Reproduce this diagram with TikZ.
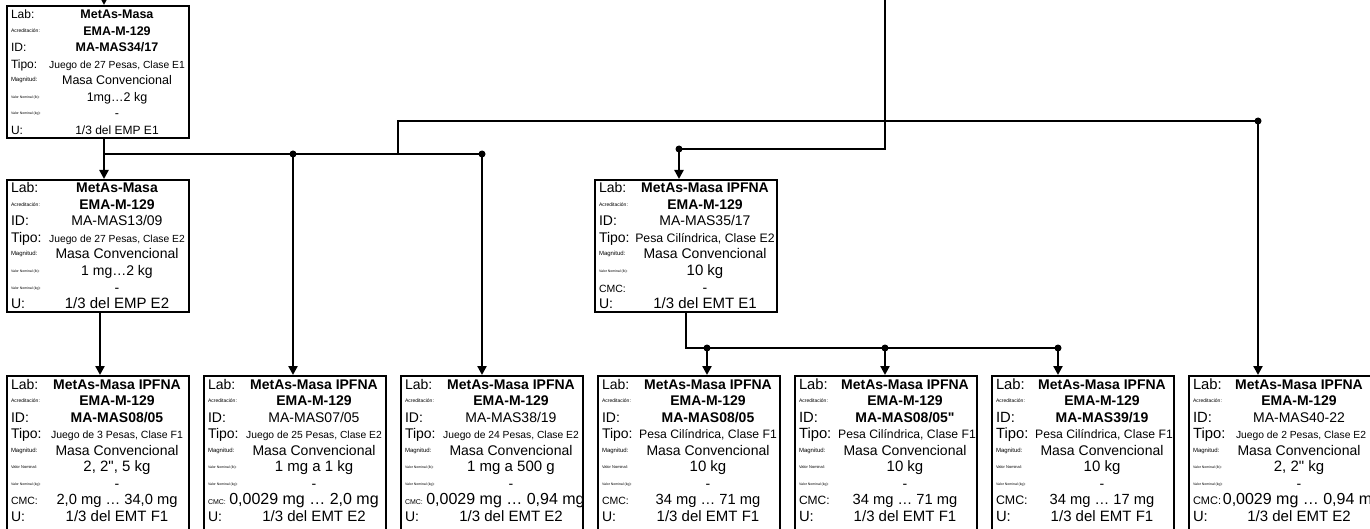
\documentclass[tikz,border=0pt]{standalone}
\usepackage{fontspec}
\setmainfont{Liberation Sans}
\usepackage{array}
\usetikzlibrary{arrows.meta,positioning}

\newcommand\tam[1]{\fontsize{#1}{#1}\selectfont}
\newcommand\etq[2][5]{\raisebox{3pt}{\tam{#1}#2}}
\newcommand\etqfont{}
\newcommand\comilla{\XeTeXglyph\XeTeXcharglyph"22\relax}
\newenvironment{ficha}{\setbox\strutbox\hbox{\vrule height13pt depth3.5pt width0pt}%
  \begin{tabular}{@{\hspace{4pt}}>{\etqfont}w{l}{36pt}@{}w{c}{140pt}@{\hspace{2pt}}}}%
  {\end{tabular}}

\begin{document}
\begin{tikzpicture}[x=1pt, y=-1pt, node distance=64pt and 15pt,
  fichabox/.style={draw, line width=2.4pt, inner sep=0pt, outer sep=0pt, font=\tam{14}},
  linea/.style={line width=2.3pt},
  arr/.style={linea, -{Triangle[length=9pt,width=9pt]}, shorten >=1pt}]
\path[use as bounding box] (0,0) rectangle (1370,529);
\clip (0,0) rectangle (1370,529);

% patrones de referencia
\node[fichabox, anchor=north west, font={\tam{12.5}\def\etqfont{\tam{12}}}] (A) at (7,6) {\begin{ficha}
Lab: & \textbf{MetAs-Masa}\\
\etq{Acreditación:} & \textbf{EMA-M-129}\\
ID: & \textbf{MA-MAS34/17}\\
Tipo: & {\tam{10.3}Juego de 27 Pesas, Clase E1}\\
\etq[6]{Magnitud:} & Masa Convencional\\
\etq[3.5]{Valor Nominal (lb):} & 1mg…2 kg\\
\etq[3.5]{Valor Nominal (kg):} & -\\
U: & {\tam{12}1/3 del EMP E1}
\end{ficha}};
\node[fichabox, below=42pt of A] (B) {\begin{ficha}
Lab: & \textbf{MetAs-Masa}\\
\etq{Acreditación:} & \textbf{EMA-M-129}\\
ID: & MA-MAS13/09\\
Tipo: & {\tam{10.3}Juego de 27 Pesas, Clase E2}\\
\etq[6]{Magnitud:} & Masa Convencional\\
\etq[3.5]{Valor Nominal (lb):} & 1 mg…2 kg\\
\etq[3.5]{Valor Nominal (kg):} & -\\
U: & {\tam{15}1/3 del EMP E2}
\end{ficha}};
\node[fichabox, anchor=north west] (M) at (595,180) {\begin{ficha}
Lab: & \textbf{MetAs-Masa IPFNA}\\
\etq{Acreditación:} & \textbf{EMA-M-129}\\
ID: & MA-MAS35/17\\
Tipo: & {\tam{12.3}Pesa Cilíndrica, Clase E2}\\
\etq[6]{Magnitud:} & Masa Convencional\\
\etq[3.5]{Valor Nominal (lb):} & {\tam{15}10 kg}\\
{\tam{10.5}CMC:} & -\\
U: & {\tam{15}1/3 del EMT E1}
\end{ficha}};

% patrones de trabajo
\node[fichabox, below=of B] (P1) {\begin{ficha}
Lab: & \textbf{MetAs-Masa IPFNA}\\
\etq{Acreditación:} & \textbf{EMA-M-129}\\
ID: & \textbf{MA-MAS08/05}\\
Tipo: & {\tam{10.5}Juego de 3 Pesas, Clase F1}\\
\etq[6]{Magnitud:} & Masa Convencional\\
\etq[4]{Valor Nominal:} & {\tam{15}2, 2\comilla, 5 kg}\\
\etq[3.5]{Valor Nominal (kg):} & -\\
{\tam{10.5}CMC:} & {\tam{14.7}2,0 mg … 34,0 mg}\\
U: & {\tam{15}1/3 del EMT F1}\\
&
\end{ficha}};
\node[fichabox, right=of P1] (P2) {\begin{ficha}
Lab: & \textbf{MetAs-Masa IPFNA}\\
\etq{Acreditación:} & \textbf{EMA-M-129}\\
ID: & MA-MAS07/05\\
Tipo: & {\tam{10.3}Juego de 25 Pesas, Clase E2}\\
\etq[6]{Magnitud:} & Masa Convencional\\
\etq[3.5]{Valor Nominal (lb):} & {\tam{15}1 mg a 1 kg}\\
\etq[3.5]{Valor Nominal (kg):} & -\\
{\tam{7}CMC:} & {\tam{16}\kern-20pt0,0029 mg … 2,0 mg}\\
U: & {\tam{15}1/3 del EMT E2}\\
&
\end{ficha}};
\node[fichabox, right=of P2] (P3) {\begin{ficha}
Lab: & \textbf{MetAs-Masa IPFNA}\\
\etq{Acreditación:} & \textbf{EMA-M-129}\\
ID: & MA-MAS38/19\\
Tipo: & {\tam{10.3}Juego de 24 Pesas, Clase E2}\\
\etq[6]{Magnitud:} & Masa Convencional\\
\etq[3.5]{Valor Nominal (lb):} & {\tam{15}1 mg a 500 g}\\
\etq[3.5]{Valor Nominal (kg):} & -\\
{\tam{7}CMC:} & {\tam{16}\kern-11pt0,0029 mg … 0,94 mg}\\
U: & {\tam{15}1/3 del EMT E2}\\
&
\end{ficha}};
\node[fichabox, right=of P3] (P4) {\begin{ficha}
Lab: & \textbf{MetAs-Masa IPFNA}\\
\etq{Acreditación:} & \textbf{EMA-M-129}\\
ID: & \textbf{MA-MAS08/05}\\
Tipo: & {\tam{12.2}Pesa Cilíndrica, Clase F1}\\
\etq[6]{Magnitud:} & Masa Convencional\\
\etq[4]{Valor Nominal:} & {\tam{15}10 kg}\\
\etq[3.5]{Valor Nominal (kg):} & -\\
{\tam{10.5}CMC:} & {\tam{14.7}34 mg … 71 mg}\\
U: & {\tam{15}1/3 del EMT F1}\\
&
\end{ficha}};
\node[fichabox, right=of P4, font={\tam{14}\def\etqfont{\tam{14.8}}}] (P5) {\begin{ficha}
Lab: & \textbf{MetAs-Masa IPFNA}\\
\etq{Acreditación:} & \textbf{EMA-M-129}\\
ID: & \textbf{MA-MAS08/05\comilla}\\
Tipo: & {\tam{12.2}\kern4pt Pesa Cilíndrica, Clase F1}\\
\etq[6]{Magnitud:} & Masa Convencional\\
\etq[4]{Valor Nominal:} & {\tam{15}10 kg}\\
\etq[3.5]{Valor Nominal (kg):} & -\\
{\tam{12}CMC:} & {\tam{14.7}34 mg … 71 mg}\\
U: & {\tam{15}1/3 del EMT F1}\\
&
\end{ficha}};
\node[fichabox, right=of P5, font={\tam{14}\def\etqfont{\tam{14.8}}}] (P6) {\begin{ficha}
Lab: & \textbf{MetAs-Masa IPFNA}\\
\etq{Acreditación:} & \textbf{EMA-M-129}\\
ID: & \textbf{MA-MAS39/19}\\
Tipo: & {\tam{12.2}\kern4pt Pesa Cilíndrica, Clase F1}\\
\etq[6]{Magnitud:} & Masa Convencional\\
\etq[4]{Valor Nominal:} & {\tam{15}10 kg}\\
\etq[3.5]{Valor Nominal (kg):} & -\\
{\tam{12.4}CMC:} & {\tam{14.7}34 mg … 17 mg}\\
U: & {\tam{15}1/3 del EMT F1}\\
&
\end{ficha}};
\node[fichabox, right=of P6, font={\tam{14}\def\etqfont{\tam{14.8}}}] (P7) {\begin{ficha}
Lab: & \textbf{MetAs-Masa IPFNA}\\
\etq{Acreditación:} & \textbf{EMA-M-129}\\
ID: & MA-MAS40-22\\
Tipo: & {\tam{10.3}\kern4pt Juego de 2 Pesas, Clase E2}\\
\etq[6]{Magnitud:} & Masa Convencional\\
\etq[3.5]{Valor Nominal (lb):} & {\tam{15}2, 2\comilla{} kg}\\
\etq[3.5]{Valor Nominal (kg):} & -\\
{\tam{11}CMC:} & {\tam{16}\kern6pt0,0029 mg … 0,94 mg}\\
U: & {\tam{15}1/3 del EMT E2}\\
&
\end{ficha}};

% puntos de las conexiones
\coordinate (inA) at (104,0);
\coordinate (j1) at (104,154);
\coordinate (j2) at (293,154);
\coordinate (j3) at (482,154);
\coordinate (j4) at (398,154);
\coordinate (j5) at (1258,121);
\coordinate (j7) at (100,340);
\coordinate (inM) at (885,0);
\coordinate (j6) at (679,149);
\coordinate (k0) at (686,348);
\coordinate (k1) at (707,348);
\coordinate (k2) at (885,348);
\coordinate (k3) at (1058,348);

\draw[arr] (inA) -- (A.north -| inA);
\draw[linea] (A.south -| j1) -- (j1) -- (j3);
\draw[arr] (j1) -- (B.north -| j1);
\draw[arr] (j2) -- (P2.north -| j2);
\draw[arr] (j3) -- (P3.north -| j3);
\draw[linea] (j4) |- (j5);
\draw[arr] (j5) -- (P7.north -| j5);
\draw[arr] (B.south -| j7) -- (P1.north -| j7);
\draw[linea] (inM) |- (j6);
\draw[arr] (j6) -- (M.north -| j6);
\draw[linea] (M.south -| k0) -- (k0) -- (k3);
\foreach \k/\p in {k1/P4, k2/P5, k3/P6}
  \draw[arr] (\k) -- (\p.north -| \k);
\foreach \j in {j2, j3, j5, j6, k1, k2, k3}
  \fill (\j) circle (3.5pt);
\end{tikzpicture}
\end{document}
